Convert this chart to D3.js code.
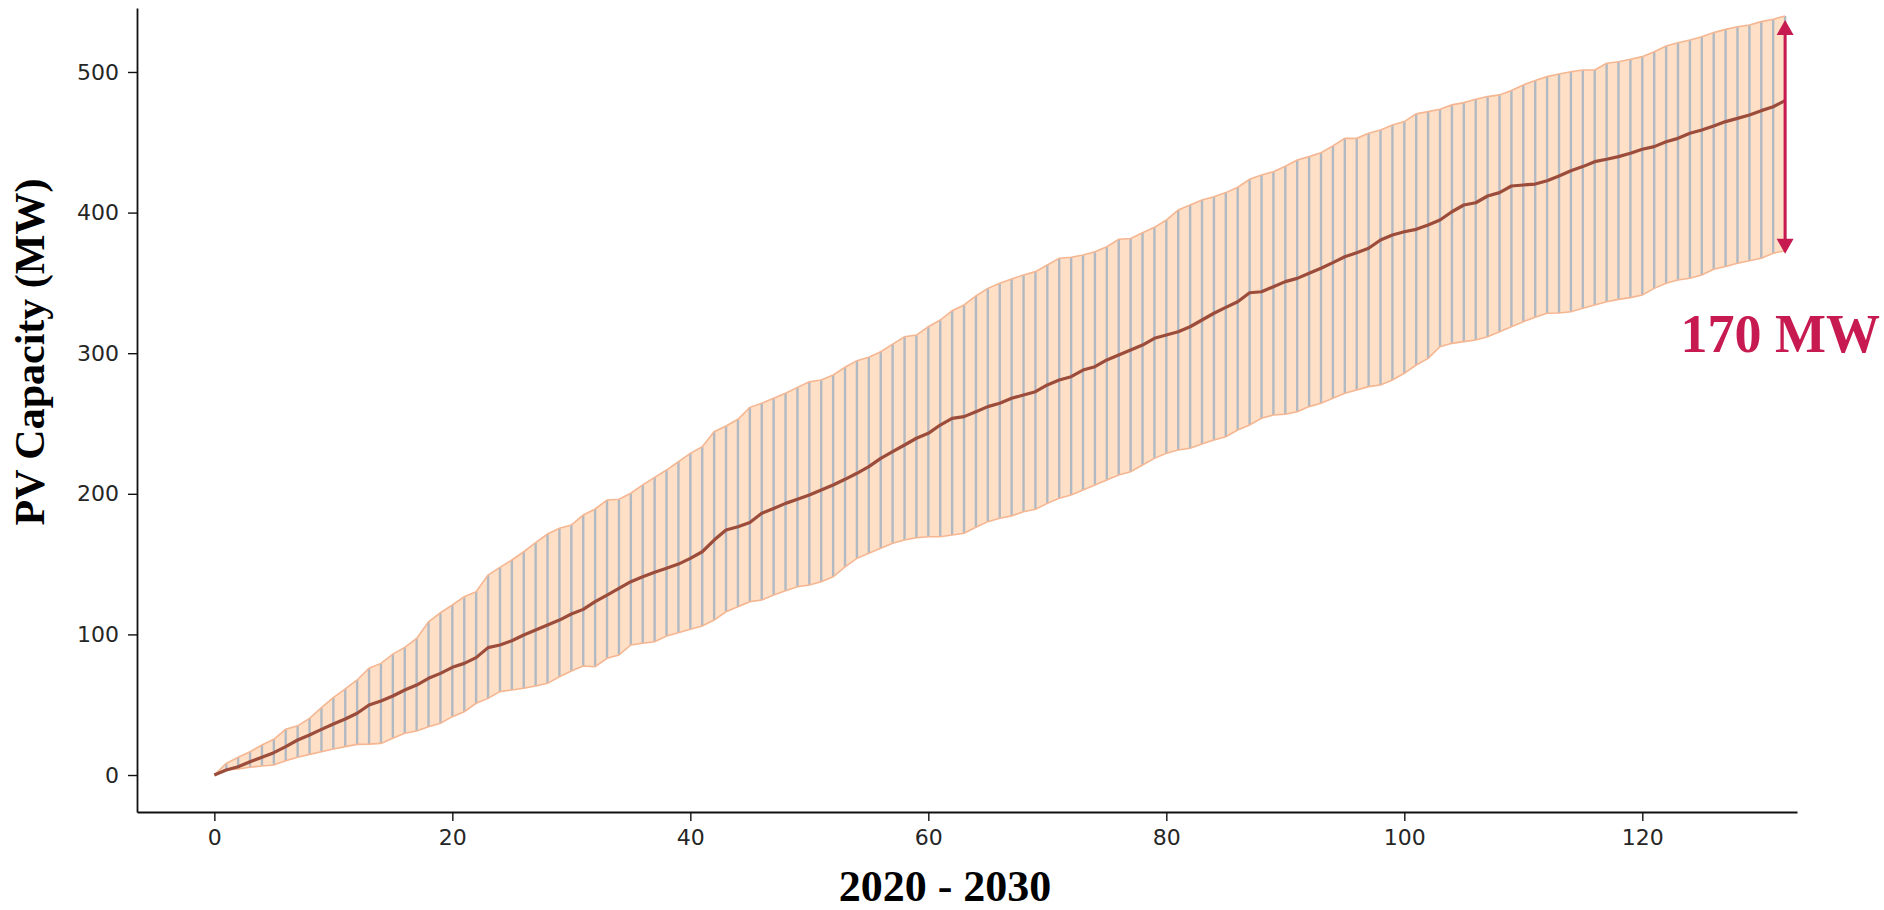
<!DOCTYPE html>
<html>
<head>
<meta charset="utf-8">
<script src="https://cdn.jsdelivr.net/npm/d3@7/dist/d3.min.js"></script>
<style>
	body { margin: 0; background: #fff; }
	svg { display: block; }
</style>
</head>
<body>
<svg id="chart" width="1884" height="910"></svg>
<script>

// mean PV capacity (MW) per step, and the spread around it
var meanCap = [0,3.6,5.9,9.5,12.6,15.9,20.2,24.9,28.5,32.5,36.3,39.8,43.9,49.8,52.6,56.2,60.5,64,68.8,72.3,
	76.6,79.4,83.5,90.6,92.5,95.5,99.6,103.1,106.7,110.2,114.5,117.8,123.3,128,132.8,137.5,141,144.2,147,150,
	154.1,158.8,167.1,174.2,176.6,179.6,186.1,189.6,193.2,196.1,199.1,202.7,206.3,210.3,214.6,219.3,225.2,230,234.7,239.5,
	243,248.9,253.7,254.9,258.4,262,264.4,267.9,270.3,272.6,277.4,280.9,283.3,288,290.4,295.2,298.7,302.3,305.8,310.6,
	312.9,315.3,318.8,323.6,328.4,332.6,336.6,343,343.7,347.3,350.9,353.2,356.8,360.4,364.4,368.6,371.5,374.6,380.5,384.1,
	386.4,388.1,391.2,394.7,400.6,405.4,407,411.8,414.2,418.9,419.6,420.3,422.7,426,429.8,432.7,436.2,437.9,439.8,442.2,
	445,446.9,450.4,452.8,456.4,458.7,461.6,464.7,467,469.4,472.5,475.3,479.6];

var upperCap = [0,8.3,12.6,16.6,21.3,25.4,32.5,35,40.3,47.9,55,61.2,67.6,75.9,79.4,86,90.8,97.2,109,115.4,
	120.9,126.8,130.4,142.2,147.7,152.9,158.8,165.2,171.4,175.5,177.8,184.9,189.2,195.6,196.1,200.4,206.3,211.7,216.9,222.8,
	228.8,233.5,244.2,248.2,253,261.5,264.4,267.9,271.5,275.7,279.7,280.9,284.5,290,294.7,297.1,301,306.5,311.7,312.9,
	318.8,323.6,330.2,334.3,340.7,346.1,349.7,352.8,355.6,358,362.7,367.5,368.2,369.8,372.2,375.7,381,381.6,385.7,389.5,
	394.7,401.8,405.4,409,411.3,414.2,418,423.7,426.7,429.1,433,437.4,439.8,442.6,447.4,452.8,452.8,456.4,458.8,462.3,
	464.7,470.2,471.8,473.5,476.6,478.2,480.6,482.5,483.7,486.8,490.8,493.9,496.7,498.6,500.2,501.4,501.4,506.2,507.3,509,
	510.9,514.4,518.5,520.8,522.8,525.1,528,530.3,532.2,533.4,535.8,537.5,539.8];

var lowerCap = [0,3.6,4.3,5.5,6.4,7.1,10.2,12.6,14.7,16.6,18.5,20.2,21.8,22,22.5,26.1,29.7,31.3,34.4,36.8,
	41.5,45,51,54.5,59.3,60.5,61.7,63.3,65.2,69.9,74,77.5,77,83,85.3,92.5,93.7,94.8,98.9,101.2,
	103.6,106,110.2,116.1,119.7,123.3,124.5,128,131.1,133.9,135.1,137.5,141,148.1,154.1,157.7,161.2,164.8,167.1,168.8,
	169.5,169.5,170.7,171.9,176.2,180.2,182.6,184.3,187.3,189,193.2,196.8,199.1,202.7,206.3,209.8,213.4,215.7,220.5,225.2,
	228.8,231.1,232.4,235.4,238.3,240.6,245.4,248.9,253.7,256,256.6,258.4,262,264.4,267.9,271.5,273.8,276.2,277.4,280.9,
	285.7,291.6,296.3,304.6,307,308.2,309.4,311.7,315.3,318.8,322.4,325.5,328.4,328.6,329.5,331.9,334.3,336.6,338.3,339.5,
	341.4,346.1,349.7,352.1,353.3,355.6,359.7,361.6,364,365.8,367.5,371.1,372.9];

var xTicks = [0, 20, 40, 60, 80, 100, 120];
var yTicks = [0, 100, 200, 300, 400, 500];

var xTitle = "2020 - 2030";
var yTitle = "PV Capacity (MW)";
var spreadLabel = "170 MW";

var steps = meanCap.map((d, i) => i);

var svg = d3.select("#chart");
var [ mL, mR, mT, mB ] = [ 137, 87, 8, 98 ];		// plot box edges
var width = +svg.attr("width");
var height = +svg.attr("height");

var x = d3.scaleLinear([-6.5, 133], [ mL, width-mR ]);
var y = d3.scaleLinear([-26.3, 545.5], [ height-mB, mT ]);

// spread band
var area = d3.area()
	.x(i => x(i))
	.y0(i => y(lowerCap[i]))
	.y1(i => y(upperCap[i]));

svg.append("path")
	.datum(steps)
	.attr("d", area)
	.attr("fill", "#ffdfc6");

// one grey bar per step
svg.append("g")
	.selectAll("line")
	.data(steps)
	.join("line")
		.attr("x1", i => x(i))
		.attr("x2", i => x(i))
		.attr("y1", i => y(lowerCap[i]))
		.attr("y2", i => y(upperCap[i]))
		.attr("stroke", "#b1b9c3")
		.attr("stroke-width", 2.4);

[ upperCap, lowerCap ].forEach(arr => {
	svg.append("path")
		.datum(steps)
		.attr("d", d3.line().x(i => x(i)).y(i => y(arr[i])))
		.attr("fill", "none")
		.attr("stroke", "#f5b692")
		.attr("stroke-width", 1.6);
});

svg.append("path")
	.datum(steps)
	.attr("d", d3.line().x(i => x(i)).y(i => y(meanCap[i])))
	.attr("fill", "none")
	.attr("stroke", "#9c4c3a")
	.attr("stroke-width", 3.2)
	.attr("stroke-linejoin", "round");

// axes
var gx = svg.append("g")
	.attr("transform", `translate(0, ${height-mB})`)
	.call(d3.axisBottom(x).tickValues(xTicks).tickSize(9).tickSizeOuter(0).tickPadding(8));

var gy = svg.append("g")
	.attr("transform", `translate(${mL}, 0)`)
	.call(d3.axisLeft(y).tickValues(yTicks).tickSize(9).tickSizeOuter(0).tickPadding(9));

[ gx, gy ].forEach(g => {
	g.select(".domain").attr("stroke", "#111").attr("stroke-width", 1.8);
	g.selectAll(".tick line").attr("stroke", "#111").attr("stroke-width", 1.4);
	g.selectAll(".tick text")
		.attr("fill", "#262626")
		.style("font-family", "'DejaVu Sans', sans-serif")
		.style("font-size", "22px");
});

// titles
svg.append("text")
	.attr("x", 945)
	.attr("y", 901)
	.attr("text-anchor", "middle")
	.style("font-family", "'Liberation Serif', 'Times New Roman', serif")
	.style("font-weight", "bold")
	.style("font-size", "44px")
	.text(xTitle);

svg.append("text")
	.attr("transform", "translate(44, 352) rotate(-90)")
	.attr("text-anchor", "middle")
	.style("font-family", "'Liberation Serif', 'Times New Roman', serif")
	.style("font-weight", "bold")
	.style("font-size", "42px")
	.text(yTitle);

// spread arrow at the last step
var last = steps.length - 1;
var ax = x(last);
var yTop = y(upperCap[last]) + 4;
var yBot = y(lowerCap[last]) + 3;
var red = "#c71a50";

svg.append("line")
	.attr("x1", ax).attr("x2", ax)
	.attr("y1", yTop + 10).attr("y2", yBot - 10)
	.attr("stroke", red)
	.attr("stroke-width", 3);

svg.append("path")
	.attr("d", `M${ax},${yTop} L${ax-8.5},${yTop+15} L${ax+8.5},${yTop+15} Z M${ax},${yBot} L${ax-8.5},${yBot-15} L${ax+8.5},${yBot-15} Z`)
	.attr("fill", red);

svg.append("text")
	.attr("x", 1880)
	.attr("y", 352)
	.attr("text-anchor", "end")
	.attr("fill", red)
	.style("font-family", "'Liberation Serif', 'Times New Roman', serif")
	.style("font-weight", "bold")
	.style("font-size", "54px")
	.text(spreadLabel);

</script>
</body>
</html>
